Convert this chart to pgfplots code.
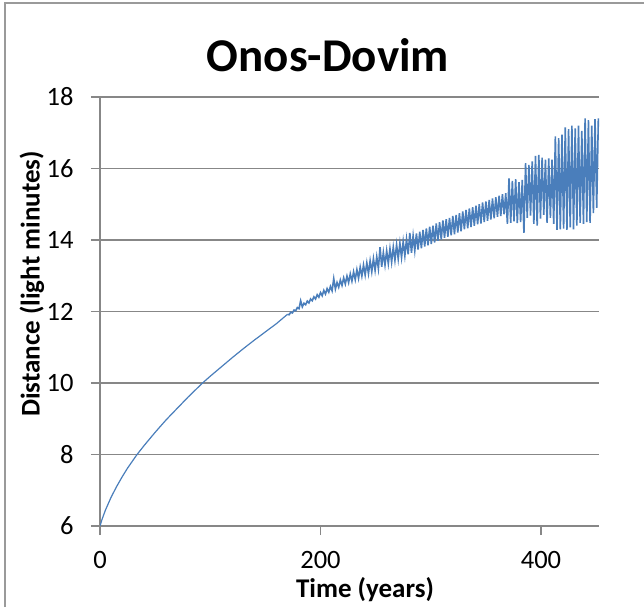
\documentclass[border=0pt]{standalone}
\usepackage{pgfplots}
\pgfplotsset{compat=1.18}
\usepackage{fontspec}
\setmainfont{Carlito}

\definecolor{serieblue}{HTML}{4A7EBB}
\definecolor{gridgray}{HTML}{878787}
\definecolor{framegray}{HTML}{9A9A9A}

\begin{document}
\begin{tikzpicture}[x=1pt,y=1pt]
  % picture frame, 644 x 607
  \path[use as bounding box] (0,0) rectangle (644,607);
  \draw[framegray, line width=1.2pt] (5,0) -- (5,604) -- (644,604);

  \node[font=\fontsize{47}{50}\selectfont\bfseries] at (328,552) {Onos-Dovim};
  \node[font=\fontsize{27}{30}\selectfont\bfseries] at (365,17) {Time (years)};
  \node[font=\fontsize{27}{30}\selectfont\bfseries, rotate=90] at (32,323) {Distance (light minutes)};

  \begin{axis}[
    at={(100pt,81pt)}, anchor=south west,
    scale only axis,
    width=499pt, height=429pt,
    xmin=0, xmax=452.6,
    ymin=6, ymax=18,
    xtick={0,200,400},
    ytick={6,8,10,12,14,16,18},
    axis x line*=bottom,
    axis y line*=left,
    axis line style={draw=gridgray, line width=1.3pt},
    ymajorgrids=true,
    grid style={draw=gridgray, line width=1.3pt},
    tick align=outside,
    major tick length=9pt,
    tick style={draw=gridgray, line width=1.3pt},
    ticklabel style={font=\fontsize{26.5}{29}\selectfont},
    /pgf/number format/assume math mode=true,
    xticklabel style={yshift=-13pt},
    yticklabel style={xshift=-14pt},
    clip=true,
  ]

    % smooth early part
    \addplot[color=serieblue, line width=1.2pt, line join=round] coordinates {
      (0,6.00)(2,6.20)(5,6.45)(10,6.80)(15,7.10)(20,7.37)(25,7.62)(33.6,8.00)
      (40,8.25)(50,8.62)(60,8.97)(70,9.29)(80,9.61)(93,10.00)(100,10.19)
      (110,10.45)(120,10.71)(130,10.96)(140,11.20)(150,11.43)(160,11.66)
      (170,11.92)
    };
    % oscillating part
    \addplot[color=serieblue, line width=1.6pt, line join=miter] coordinates {
      (170,11.92)(171.5,11.91)(173,11.98)(174.5,11.96)(176,12.04)(177.5,12.02)
      (179,12.11)(180.5,12.08)(182,12.30)(183.5,12.13)(185,12.23)(186.5,12.19)
      (188,12.29)(189.5,12.24)(191,12.35)(192.5,12.30)(194,12.41)(195.5,12.35)
      (197,12.47)(198.5,12.40)(200,12.53)(201.5,12.44)(203,12.59)(204.5,12.49)
      (206,12.64)(207.5,12.54)(209,12.70)(210.5,12.58)(212,12.92)(213.5,12.63)
      (215,12.81)(216.5,12.68)(218,12.88)(219.5,12.73)(221,12.94)(222.5,12.77)
      (224,12.99)(225.5,12.81)(227,13.05)(228.5,12.85)(230,13.11)(231.5,12.89)
      (233,13.17)(234.5,12.93)(236,13.24)(237.5,12.99)(239,13.30)(240.5,13.02)
      (242,13.36)(243.5,13.06)(245,13.42)(246.5,13.11)(248,13.48)(249.5,13.15)
      (251,13.53)(252.5,13.20)(254,13.80)(255.5,13.25)(257,13.65)(258.5,13.30)
      (260,13.70)(261.5,13.34)(263,13.76)(264.5,13.38)(266,13.80)(267.5,13.43)
      (269,13.87)(270.5,13.47)(272,13.91)(273.5,13.51)(275,13.96)(276.5,13.56)
      (278,14.02)(279.5,13.60)(281,14.20)(282.5,13.64)(284,14.12)(285.5,13.70)
      (287,14.18)(288.5,13.73)(290,14.23)(291.5,13.77)(293,14.28)(294.5,13.82)
      (296,14.32)(297.5,13.85)(299,14.37)(300.5,13.89)(302,14.40)(303.5,13.93)
      (305,14.46)(306.5,13.98)(308,14.50)(309.5,14.01)(311,14.55)(312.5,14.06)
      (314,14.58)(315.5,14.09)(317,14.62)(318.5,14.13)(320,14.67)(321.5,14.16)
      (323,14.70)(324.5,14.21)(326,14.75)(327.5,14.24)(329,14.80)(330.5,14.30)
      (332,14.84)(333.5,14.33)(335,14.88)(336.5,14.36)(338,14.92)(339.5,14.40)
      (341,14.96)(342.5,14.44)(344,15.00)(345.5,14.46)(347,15.05)(348.5,14.50)
      (350,15.08)(351.5,14.54)(353,15.12)(354.5,14.57)(356,15.16)(357.5,14.61)
      (359,15.20)(360.5,14.65)(362,15.24)(363.5,14.67)(365,15.28)(366.5,14.72)
      (368,15.31)(369.5,14.45)(371,15.72)(372.5,14.48)(374,15.65)(375.5,14.52)
      (377,15.70)(378.5,14.47)(380,15.62)(381.5,14.50)(383,15.68)(384.5,14.20)
      (386,16.15)(387.5,14.62)(389,16.10)(390.5,14.68)(392,16.20)(393.5,14.45)
      (395,16.35)(396.5,14.40)(398,16.38)(399.5,14.60)(401,16.30)(402.5,14.70)
      (404,16.25)(405.5,14.48)(407,16.28)(408.5,14.62)(410,16.25)(411.5,14.45)
      (413,16.90)(414.5,14.28)(416,16.85)(417.5,14.30)(419,16.95)(420.5,14.32)
      (422,17.15)(423.5,14.28)(425,17.10)(426.5,14.35)(428,17.20)(429.5,14.30)
      (431,17.12)(432.5,14.40)(434,17.20)(435.5,14.48)(437,17.05)(438.5,14.45)
      (440,17.40)(441.5,14.50)(443,17.35)(444.5,14.48)(446,17.20)(447.5,14.75)
      (449,17.38)(450.5,14.90)(452,17.40)
    };

  \end{axis}
\end{tikzpicture}
\end{document}
